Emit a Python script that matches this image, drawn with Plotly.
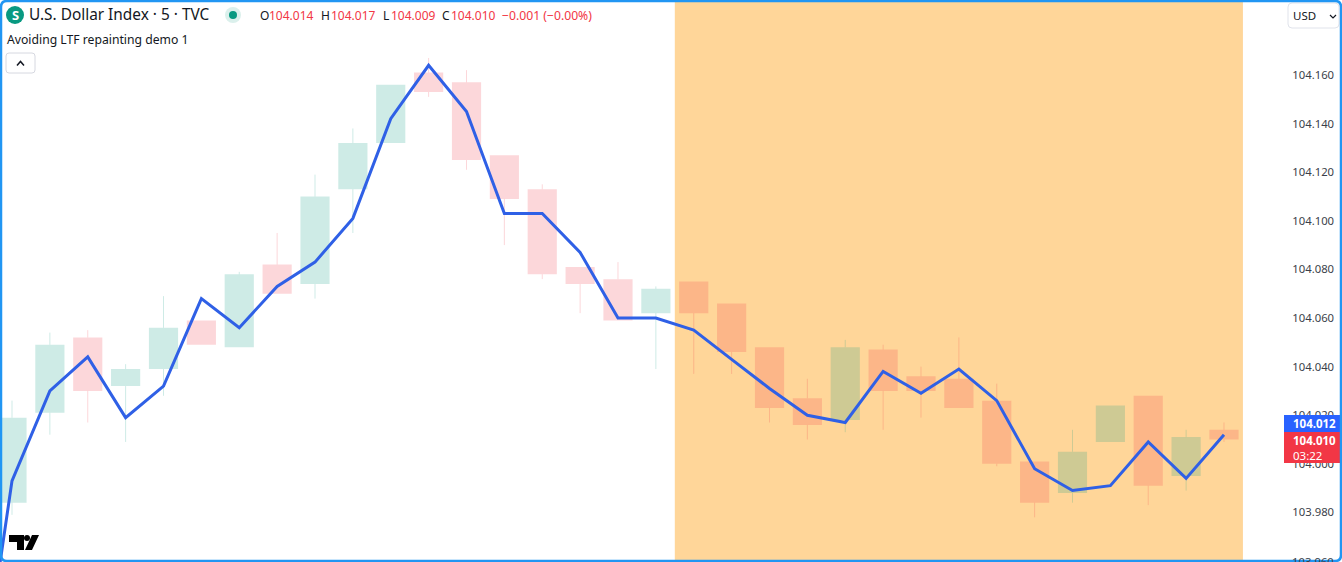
import plotly.graph_objects as go

bars = list(range(33))
opens = [103.984,104.021,104.052,104.032,104.039,104.059,104.048,104.082,104.074,104.113,104.132,104.161,104.157,104.127,104.113,104.081,104.076,104.062,104.075,104.066,104.048,104.027,104.018,104.047,104.036,104.035,104.026,104.001,103.988,104.009,104.028,103.995,104.014]
closes = [104.019,104.049,104.030,104.039,104.056,104.049,104.078,104.070,104.110,104.132,104.156,104.153,104.125,104.109,104.078,104.074,104.059,104.072,104.062,104.046,104.023,104.016,104.048,104.030,104.030,104.023,104.000,103.984,104.005,104.024,103.991,104.011,104.010]
highs = [104.026,104.054,104.055,104.041,104.069,104.059,104.079,104.095,104.119,104.138,104.156,104.167,104.162,104.127,104.115,104.081,104.083,104.073,104.075,104.066,104.048,104.035,104.051,104.049,104.040,104.052,104.033,104.001,104.014,104.024,104.028,104.014,104.017]
lows = [103.979,104.012,104.017,104.009,104.028,104.049,104.048,104.070,104.068,104.095,104.132,104.151,104.121,104.090,104.076,104.062,104.059,104.039,104.037,104.037,104.017,104.010,104.013,104.014,104.019,104.023,103.999,103.978,103.984,104.009,103.983,103.989,104.009]

line_bars = list(range(-1, 33))
line_values = [103.886,103.993,104.030,104.044,104.019,104.032,104.068,104.056,104.073,104.083,104.101,104.142,104.164,104.145,104.103,104.103,104.087,104.060,104.060,104.055,104.043,104.031,104.020,104.017,104.038,104.029,104.039,104.026,103.998,103.989,103.991,104.009,103.994,104.012]

tick_values = [103.98,104.00,104.02,104.04,104.06,104.08,104.10,104.12,104.14,104.16]
tick_labels = ["103.980","104.000","104.020","104.040","104.060","104.080","104.100","104.120","104.140","104.160"]
clipped_tick_value = 103.96
clipped_tick_label = "103.960"

band_start, band_end = 17.5, 32.5

GREEN = "rgba(8,153,129,0.2)"
RED = "rgba(242,54,69,0.2)"
FONT = "Noto Sans"
TXT = "#131722"
PLOT_W = 1283
H = 562

wx, wy = {True: [], False: []}, {True: [], False: []}
for i, o, c, h, l in zip(bars, opens, closes, highs, lows):
    up = c >= o
    wx[up] += [i, i, None, i, i, None]
    wy[up] += [h, max(o, c), None, min(o, c), l, None]

fig = go.Figure()
fig.add_vrect(x0=band_start, x1=band_end, fillcolor="#ffd699", line_width=0, layer="below")
fig.add_trace(go.Candlestick(
    x=bars, open=opens, high=highs, low=lows, close=closes, whiskerwidth=0,
    increasing=dict(fillcolor=GREEN, line=dict(color="rgba(0,0,0,0)", width=0)),
    decreasing=dict(fillcolor=RED, line=dict(color="rgba(0,0,0,0)", width=0)),
    showlegend=False, hoverinfo="skip"))
for up, col in ((True, GREEN), (False, RED)):
    fig.add_trace(go.Scatter(x=wx[up], y=wy[up], mode="lines", line=dict(color=col, width=1),
                             showlegend=False, hoverinfo="skip"))
fig.add_trace(go.Scatter(x=line_bars, y=line_values, mode="lines",
                         line=dict(color="#2f60e6", width=3), showlegend=False, hoverinfo="skip"))


def px(x):
    return x / PLOT_W


def py(y):
    return 1 - y / H


def text(x, y, s, color=TXT, size=12, anchor="left", weight=None):
    fig.add_annotation(xref="paper", yref="paper", x=px(x), y=py(y), text=s, showarrow=False,
                       xanchor=anchor, yanchor="middle", borderpad=0,
                       font=dict(family=FONT, size=size, color=color, weight=weight))


def shape(**kw):
    kw = {"xref": "paper", "yref": "paper", "layer": "above", **kw}
    fig.add_shape(**kw)


def box(x0, y0, x1, y1, **kw):
    shape(type="rect", x0=px(x0), x1=px(x1), y0=py(y0), y1=py(y1), **kw)


def circle(cx, cy, r, color):
    shape(type="circle", x0=px(cx - r), x1=px(cx + r), y0=py(cy - r), y1=py(cy + r),
          fillcolor=color, line_width=0)


def path(points, **kw):
    d = "M" + " L".join(f"{px(x)},{py(y)}" for x, y in points)
    shape(type="path", path=d, **kw)


def rounded(x0, y0, x1, y1, r, **kw):
    X0, X1, Y0, Y1 = px(x0), px(x1), py(y0), py(y1)
    rx, ry = r / PLOT_W, r / H
    d = (f"M{X0+rx},{Y0} L{X1-rx},{Y0} Q{X1},{Y0} {X1},{Y0-ry} L{X1},{Y1+ry} Q{X1},{Y1} {X1-rx},{Y1} "
         f"L{X0+rx},{Y1} Q{X0},{Y1} {X0},{Y1+ry} L{X0},{Y0-ry} Q{X0},{Y0} {X0+rx},{Y0} Z")
    shape(type="path", path=d, **kw)


# header
circle(15, 15, 9, "#089981")
text(15, 15, "<b>S</b>", "#ffffff", 13, "center")
text(28, 15, "U.S. Dollar Index · 5 · TVC", TXT, 15.4)
circle(233, 15, 8, "#dbf0ec")
circle(233, 15, 4, "#089981")
for lx, vx, lab, val in [(259, 268, "O", "104.014"), (320, 330, "H", "104.017"),
                         (382, 390, "L", "104.009"), (441, 450, "C", "104.010")]:
    text(lx, 15.5, lab, TXT, 12)
    text(vx, 15.5, val, "#f23645", 12)
text(501, 15.5, "−0.001 (−0.00%)", "#f23645", 12.2)
text(6, 39.5, "Avoiding LTF repainting demo 1", TXT, 12.2)

# collapse button
rounded(6, 53, 35, 73, 3, fillcolor="#ffffff", line=dict(color="#d6d8e0", width=1))
path([(17, 65.5), (20.5, 61.5), (24, 65.5)], line=dict(color=TXT, width=1.5))

# TV logo
path([(9, 535), (24, 535), (24, 550), (17, 550), (17, 542), (9, 542)], fillcolor="#000000", line_width=0)
circle(27, 538, 3, "#000000")
path([(32, 535), (39, 535), (32, 550), (25, 550)], fillcolor="#000000", line_width=0)

# currency button
rounded(1288, 3, 1339, 28, 4, fillcolor="#ffffff", line=dict(color="#e0e3eb", width=1))
text(1292, 15.5, "USD", TXT, 11.5)
path([(1330, 15), (1333, 18), (1336, 15)], line=dict(color=TXT, width=1.2))

# price tags
box(1284, 415, 1340, 432, fillcolor="#2962ff", line_width=0)
box(1284, 432, 1340, 463, fillcolor="#f23645", line_width=0)
text(1292, 423.5, "<b>104.012</b>", "#ffffff", 11.5)
text(1292, 440.5, "<b>104.010</b>", "#ffffff", 11.5)
text(1292, 455, "03:22", "#ffffff", 11.5)

# the lowest tick label sits half off the bottom of the window
fig.add_annotation(xref="paper", yref="y", x=px(1291), y=clipped_tick_value, text=clipped_tick_label,
                   showarrow=False, xanchor="left", yanchor="middle", borderpad=0,
                   font=dict(family=FONT, size=11.3, color="#3b3f4a"))

# window border
rounded(1, 1, 1341, 561, 6, fillcolor="rgba(0,0,0,0)", line=dict(color="#2196f3", width=2.5))

fig.update_layout(
    width=1342, height=H, margin=dict(l=0, r=1342 - PLOT_W, t=0, b=0),
    paper_bgcolor="#ffffff", plot_bgcolor="#ffffff", boxgap=0.23, boxgroupgap=0, showlegend=False,
    xaxis=dict(range=[-0.3168, 33.558], visible=False, rangeslider=dict(visible=False), showgrid=False),
    yaxis=dict(range=[103.9596, 104.19086], side="right", tickmode="array", tickvals=tick_values,
               ticktext=tick_labels, showgrid=False, zeroline=False, showline=False, ticks="outside",
               ticklen=6, tickcolor="rgba(0,0,0,0)", tickfont=dict(family=FONT, size=11.3, color="#3b3f4a")),
)
fig.write_html("out.html", config=dict(displayModeBar=False), post_script="document.body.style.margin='0';")
